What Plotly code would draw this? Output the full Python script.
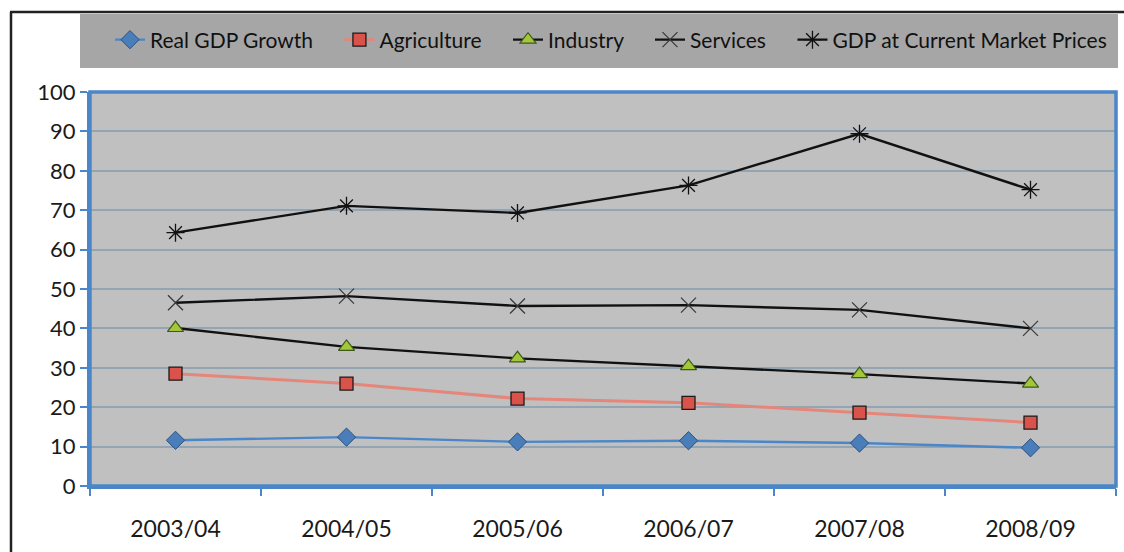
import plotly.graph_objects as go

categories = ["2003/04", "2004/05", "2005/06", "2006/07", "2007/08", "2008/09"]
real_gdp = [11.6, 12.4, 11.2, 11.5, 10.9, 9.7]
agriculture = [28.5, 26.0, 22.2, 21.1, 18.6, 16.1]
industry = [40.1, 35.3, 32.4, 30.4, 28.4, 26.0]
services = [46.5, 48.2, 45.7, 45.9, 44.7, 40.0]
gdp_current = [64.3, 71.1, 69.3, 76.3, 89.4, 75.2]
series_names = ["Real GDP Growth", "Agriculture", "Industry", "Services",
                "GDP at Current Market Prices"]
y_ticks = list(range(0, 101, 10))

W, H = 1124, 552
ML, MR, MT, MB = 90, 8, 92, 66
PW, PH = W - ML - MR, H - MT - MB


def px(x):
    return (x - ML) / PW


def py(y):
    return (H - MB - y) / PH


PAD = "\u00a0" * 4
FONT = "Lato"
fig = go.Figure()

fig.add_trace(go.Scatter(
    x=categories, y=real_gdp, name=series_names[0] + PAD, mode="lines+markers",
    line=dict(color="#4a86c8", width=2.4),
    marker=dict(symbol="diamond", size=14, color="#4a7ebb",
                line=dict(color="#2c4f7c", width=1))))
fig.add_trace(go.Scatter(
    x=categories, y=agriculture, name=series_names[1] + PAD, mode="lines+markers",
    line=dict(color="#e5867a", width=3),
    marker=dict(symbol="square", size=13, color="#d9534a",
                line=dict(color="#1a1a1a", width=1.3))))
fig.add_trace(go.Scatter(
    x=categories, y=industry, name=series_names[2] + PAD, mode="lines+markers",
    line=dict(color="#111111", width=2.4),
    marker=dict(symbol="triangle-up", size=14, color="#a4c739",
                line=dict(color="#3d5a1e", width=1.2))))
fig.add_trace(go.Scatter(
    x=categories, y=services, name=series_names[3] + PAD, mode="lines+markers",
    line=dict(color="#111111", width=2.4),
    marker=dict(symbol="x-thin", size=15, color="#3a3a3a",
                line=dict(color="#3a3a3a", width=1.3))))
fig.add_trace(go.Scatter(
    x=categories, y=gdp_current, name=series_names[4],
    mode="lines+markers",
    line=dict(color="#111111", width=2.4),
    marker=dict(symbol="asterisk", size=15, color="#111111",
                line=dict(color="#111111", width=1.3))))

shapes = [
    # outer frame (top and left)
    dict(type="line", xref="paper", yref="paper", x0=px(10), x1=px(W),
         y0=py(12), y1=py(12), line=dict(color="#222222", width=2.5)),
    dict(type="line", xref="paper", yref="paper", x0=px(11), x1=px(11),
         y0=py(12), y1=py(H), line=dict(color="#222222", width=2.5)),
    # legend background
    dict(type="rect", xref="paper", yref="paper", x0=px(80), x1=px(1118),
         y0=py(68), y1=py(14), fillcolor="#a6a6a6", line=dict(width=0),
         layer="below"),
    # plot border
    dict(type="rect", xref="paper", yref="paper", x0=0, x1=1, y0=0, y1=1,
         line=dict(color="#4a86c8", width=3.5)),
]

fig.update_layout(
    width=W, height=H,
    margin=dict(l=ML, r=MR, t=MT, b=MB, pad=0),
    paper_bgcolor="white",
    plot_bgcolor="#c0c0c0",
    font=dict(family=FONT, color="#1a1a1a", size=21),
    showlegend=True,
    legend=dict(orientation="h", x=px(110), y=py(40), xanchor="left",
                yanchor="middle", bgcolor="rgba(0,0,0,0)",
                font=dict(family=FONT, size=21, color="#111111"),
                itemwidth=30, traceorder="normal", itemclick=False),
    shapes=shapes,
    xaxis=dict(type="category", range=[-0.5, 5.5], showgrid=False,
               showline=True, linecolor="#4a86c8", linewidth=3,
               ticks="outside", tickson="boundaries", ticklen=7,
               tickcolor="#4a86c8", tickwidth=1.5,
               ticklabelstandoff=20,
               tickfont=dict(family=FONT, size=23, color="#1a1a1a"),
               zeroline=False),
    yaxis=dict(range=[0, 100], tickvals=y_ticks, showgrid=True,
               gridcolor="#93a4b3", gridwidth=1.5,
               showline=True, linecolor="#4a86c8", linewidth=3,
               ticks="outside", ticklen=7, tickcolor="#4a86c8", tickwidth=1.5,
               tickfont=dict(family=FONT, size=22, color="#1a1a1a"),
               zeroline=False),
)

fig.write_html("out.html")
